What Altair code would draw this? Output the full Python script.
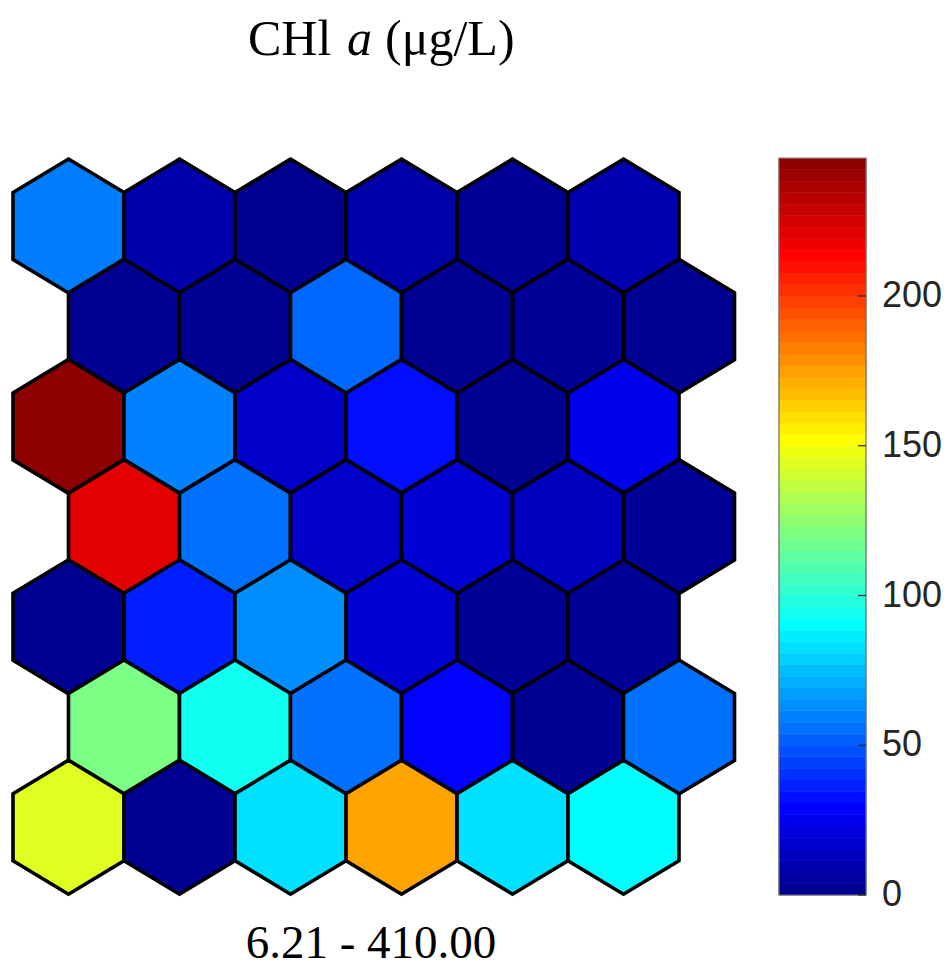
import altair as alt
import pandas as pd

# ---------------- data ----------------
title_parts = ["CHl", "a", "(μg/L)"]
range_label = "6.21 - 410.00"

# SOM component plane values (top row first), 6 columns x 7 rows
chl_row0 = [59, 9, 3, 8, 4, 10]
chl_row1 = [3, 3, 54, 3, 4, 3]
chl_row2 = [246, 60, 16, 32, 3, 24]
chl_row3 = [221, 56, 16, 18, 14, 4]
chl_row4 = [3, 36, 63, 18, 4, 4]
chl_row5 = [120, 94, 56, 29, 3, 56]
chl_row6 = [144, 3, 83, 174, 83, 90]
chl_rows = [chl_row0, chl_row1, chl_row2, chl_row3, chl_row4, chl_row5, chl_row6]

cbar_ticks = [0, 50, 100, 150, 200]
cbar_max = 246
n_levels = 64

# MATLAB jet(64) break points (value of level centres) and colours
jet_stops = [1.92, 28.83, 90.33, 151.83, 213.33, 244.08]
jet_colors = ["#00008f", "#0000ff", "#00ffff", "#ffff00", "#ff0000", "#8f0000"]

# ---------------- layout ----------------
W, H = 934, 959
X0, DX = 60.5, 111.0      # plot x of first column centre, column step
Y0, DY = 218.0, 100.2     # plot y of first row centre, row step
V0, PPU = 887.0, 2.995    # plot y of colour-bar value 0, pixels per unit
HEX_SIZE = 134 ** 2
hex_path = "M0,-1L0.8284,-0.5L0.8284,0.5L0,1L-0.8284,0.5L-0.8284,-0.5Z"

records = []
for r, vals in enumerate(chl_rows):
    for c, v in enumerate(vals):
        records.append({"row": r, "gx": c + 0.5 * (r % 2), "value": v})
hex_df = pd.DataFrame(records)

color_scale = alt.Scale(domain=jet_stops, range=jet_colors, interpolate="rgb", clamp=True)
x_scale = alt.Scale(domain=[-X0 / DX, (W - X0) / DX], nice=False, zero=False)
y_scale = alt.Scale(domain=[-Y0 / DY, (H - Y0) / DY], reverse=True, nice=False, zero=False)
v_scale = alt.Scale(domain=[-(H - V0) / PPU, V0 / PPU], nice=False, zero=False)

hexes = alt.Chart(hex_df).mark_point(
    shape=hex_path, filled=True, opacity=1, fillOpacity=1,
    stroke="black", strokeWidth=3.6, strokeOpacity=1, strokeJoin="miter", size=HEX_SIZE
).encode(
    x=alt.X("gx:Q", scale=x_scale, axis=None),
    y=alt.Y("row:Q", scale=y_scale, axis=None),
    fill=alt.Fill("value:Q", scale=color_scale, legend=None),
)

step = cbar_max / n_levels
cbar = alt.Chart(alt.sequence(0, cbar_max, step, as_="lo")).transform_calculate(
    hi=f"datum.lo + {step}", mid=f"datum.lo + {step / 2}"
).mark_rect(strokeWidth=0.6).encode(
    x=alt.value(771), x2=alt.value(858),
    y=alt.Y("lo:Q", scale=v_scale, axis=None), y2="hi:Q",
    fill=alt.Fill("mid:Q", scale=color_scale, legend=None),
    stroke=alt.Stroke("mid:Q", scale=color_scale, legend=None),
)

border = alt.Chart(alt.sequence(0, cbar_max, step, as_="lo")).transform_calculate(
    hi=f"datum.lo + {step}"
).transform_aggregate(
    lo="min(lo)", hi="max(hi)"
).mark_rect(fillOpacity=0, stroke="#6e6e6e", strokeWidth=1.2).encode(
    x=alt.value(771), x2=alt.value(858),
    y=alt.Y("lo:Q", scale=v_scale, axis=None), y2="hi:Q",
)

tick_df = pd.DataFrame({"tick": cbar_ticks})
ticks = alt.Chart(tick_df).mark_rule(color="#262626", strokeWidth=1.2).encode(
    y=alt.Y("tick:Q", scale=v_scale, axis=None),
    x=alt.value(850), x2=alt.value(858),
)
labels = alt.Chart(tick_df).mark_text(
    align="left", baseline="middle", font="Liberation Sans", fontSize=36, color="#262626"
).encode(
    y=alt.Y("tick:Q", scale=v_scale, axis=None),
    x=alt.value(874),
    text="tick:Q",
)
colorbar = alt.layer(cbar, border, ticks, labels)

def text_mark(txt, x, y, size, align="left", style="normal"):
    return alt.Chart(pd.DataFrame({"t": [txt]})).mark_text(
        align=align, baseline="alphabetic", font="Liberation Serif",
        fontSize=size, fontStyle=style, color="black"
    ).encode(x=alt.value(x), y=alt.value(y), text="t:N")

t1 = text_mark(title_parts[0], 240, 47, 50)
t2 = text_mark(title_parts[1], 339, 47, 50, style="italic")
t3 = text_mark(title_parts[2], 377, 47, 50)
bottom = text_mark(range_label, 363, 950, 47, align="center")

chart = alt.layer(hexes, colorbar, t1, t2, t3, bottom).resolve_scale(
    y="independent"
).properties(
    width=W, height=H, padding=0,
    autosize=alt.AutoSizeParams(type="none"),
    background="white",
).configure_view(stroke=None)

chart.save("out.html", embed_options={"renderer": "svg", "actions": False})
